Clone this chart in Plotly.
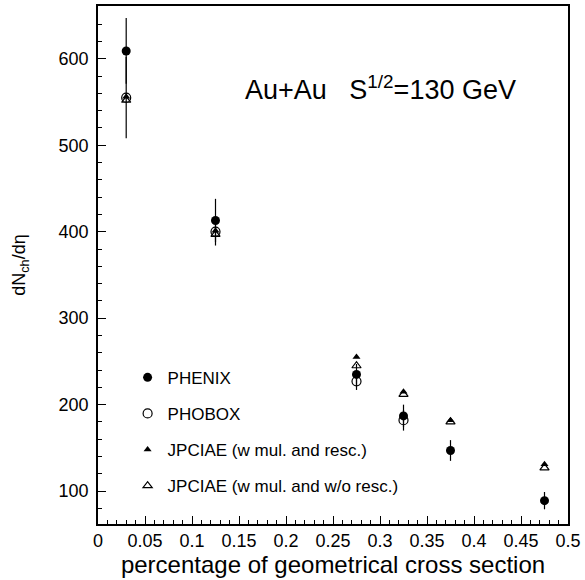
import plotly.graph_objects as go

# centrality (fraction of geometrical cross section)
phenix_x = [0.03, 0.125, 0.275, 0.325, 0.375, 0.475]
phenix_y = [609, 413, 235, 187, 147, 89]
phenix_err = [38, 25, 12, 13, 12, 10]

phobos_x = [0.03, 0.125, 0.275, 0.325]
phobos_y = [555, 400, 227, 182]
phobos_err = [47, 16, 10, 12]

jp_resc_x = [0.03, 0.125, 0.275, 0.325, 0.375, 0.475]
jp_resc_y = [556, 401, 255, 215, 182, 131]

jp_noresc_x = [0.03, 0.125, 0.275, 0.325, 0.375, 0.475]
jp_noresc_y = [552, 397, 245, 212, 180, 127]

labels = ["PHENIX", "PHOBOX", "JPCIAE (w mul. and resc.)", "JPCIAE (w mul. and w/o resc.)"]

FONT = "Liberation Sans, Arial, sans-serif"

fig = go.Figure()
fig.add_trace(go.Scatter(
    x=phobos_x, y=phobos_y, mode="markers", name=labels[1], legendrank=2, legendgroup="b",
    marker=dict(symbol="circle-open", size=9, color="black", line=dict(width=1.2)),
    error_y=dict(type="data", array=phobos_err, color="black", thickness=1.2, width=0)))
fig.add_trace(go.Scatter(
    x=phenix_x, y=phenix_y, mode="markers", name=labels[0], legendrank=1, legendgroup="a",
    marker=dict(symbol="circle", size=9, color="black"),
    error_y=dict(type="data", array=phenix_err, color="black", thickness=1.2, width=0)))
fig.add_trace(go.Scatter(
    x=jp_noresc_x, y=jp_noresc_y, mode="markers", name=labels[3], legendrank=4, legendgroup="d",
    marker=dict(symbol="triangle-up-open", size=8, color="black", line=dict(width=1.2))))
fig.add_trace(go.Scatter(
    x=jp_resc_x, y=jp_resc_y, mode="markers", name=labels[2], legendrank=3, legendgroup="c",
    marker=dict(symbol="triangle-up", size=7, color="black")))

fig.add_annotation(
    text="Au+Au   S<sup>1/2</sup>=130 GeV", xref="paper", yref="paper",
    x=0.6, y=0.842, xanchor="center", yanchor="middle", showarrow=False,
    font=dict(family=FONT, size=27, color="black"))

fig.update_layout(
    width=585, height=580,
    margin=dict(l=98, r=14, t=4, b=56),
    paper_bgcolor="white", plot_bgcolor="white",
    font=dict(family=FONT, color="black"),
    legend=dict(x=0.063, y=0.317, xanchor="left", yanchor="top",
                font=dict(family=FONT, size=17, color="black"),
                bgcolor="rgba(0,0,0,0)", tracegroupgap=11, itemwidth=30),
    xaxis=dict(range=[0, 0.5], dtick=0.05, tick0=0, ticks="inside", ticklen=8,
               tickcolor="black", showgrid=False, zeroline=False,
               showline=True, linecolor="black", linewidth=1.5, mirror=True,
               tickfont=dict(size=18, family=FONT), tickformat="~g",
               minor=dict(dtick=0.01, ticks="inside", ticklen=4, tickcolor="black"),
               title=dict(text="percentage of geometrical cross section",
                          font=dict(size=24, family=FONT), standoff=5)),
    yaxis=dict(range=[62, 661], dtick=100, tick0=0, ticks="inside", ticklen=8,
               tickcolor="black", showgrid=False, zeroline=False,
               showline=True, linecolor="black", linewidth=1.5, mirror=True,
               tickfont=dict(size=18, family=FONT), ticklabelstandoff=4,
               minor=dict(dtick=20, ticks="inside", ticklen=4, tickcolor="black"),
               title=dict(text="dN<sub>ch</sub>/dη", font=dict(size=18, family=FONT),
                          standoff=28)),
)

fig.write_html("out.html")
